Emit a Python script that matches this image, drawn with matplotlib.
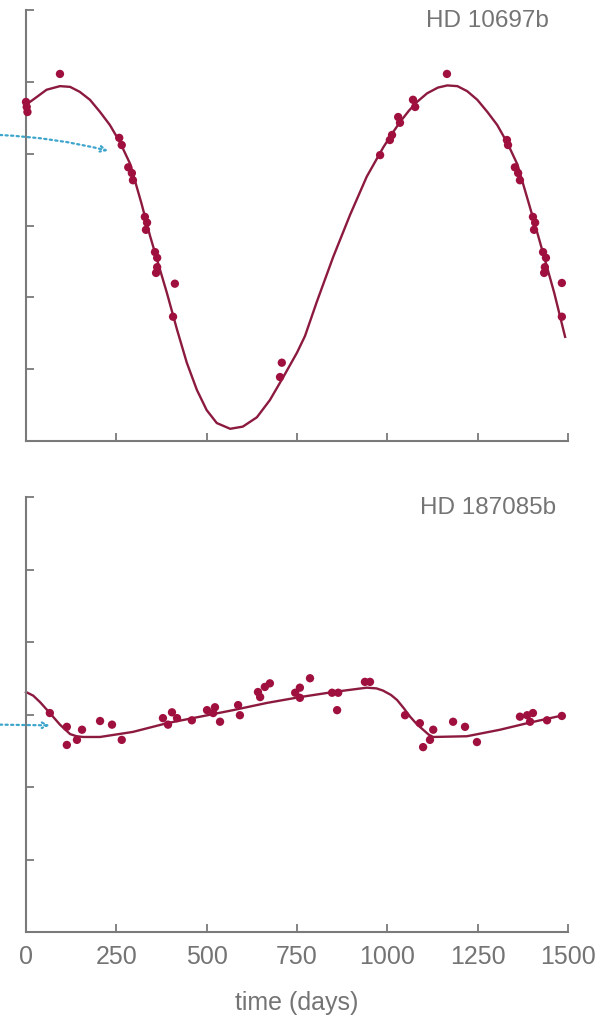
import matplotlib
matplotlib.use("Agg")
import matplotlib.pyplot as plt

# ---------------- data ----------------
# HD 10697b model curve (days, arbitrary RV units, ticks every 1)
top_curve_t = [0, 30, 57, 94, 122, 149, 177, 205, 232, 260, 288, 320, 343, 370, 390,
               418, 445, 473, 500, 528, 565, 600, 639, 675, 712, 750, 772, 805, 850,
               897, 943, 989, 1012, 1035, 1060, 1082, 1110, 1140, 1166, 1194, 1221,
               1249, 1277, 1304, 1332, 1360, 1392, 1415, 1442, 1462, 1492]
top_curve_v = [4.68, 4.79, 4.89, 4.94, 4.93, 4.86, 4.75, 4.58, 4.40, 4.16, 3.86, 3.30,
               2.86, 2.40, 2.06, 1.55, 1.09, 0.71, 0.43, 0.25, 0.17, 0.20, 0.33, 0.57,
               0.89, 1.23, 1.46, 1.94, 2.56, 3.15, 3.68, 4.09, 4.27, 4.44, 4.60, 4.72,
               4.84, 4.92, 4.95, 4.94, 4.87, 4.75, 4.58, 4.40, 4.15, 3.85, 3.30, 2.90,
               2.42, 2.06, 1.45]

top_pts_t = [0, 2, 4, 94, 258, 265, 283, 293, 296, 329, 335, 332, 357, 363, 363, 360,
             412, 407, 708, 703, 980, 1007, 1013, 1030, 1035, 1071, 1077, 1165,
             1331, 1334, 1353, 1362, 1367, 1403, 1409, 1406, 1431, 1439, 1436, 1434,
             1483, 1483]
top_pts_v = [4.72, 4.65, 4.58, 5.11, 4.22, 4.12, 3.81, 3.73, 3.63, 3.12, 3.04, 2.94,
             2.63, 2.55, 2.42, 2.34, 2.19, 1.73, 1.09, 0.89, 3.98, 4.19, 4.26, 4.51,
             4.43, 4.75, 4.65, 5.11, 4.19, 4.12, 3.81, 3.73, 3.63, 3.12, 3.04, 2.94,
             2.63, 2.55, 2.42, 2.34, 2.20, 1.73]

# HD 187085b model curve
bot_curve_t = [0, 20, 39, 66, 94, 122, 140, 158, 205, 296, 390, 482, 573, 667, 758,
               850, 943, 970, 988, 1010, 1027, 1045, 1063, 1081, 1099, 1115, 1127,
               1220, 1312, 1387, 1478]
bot_curve_v = [3.31, 3.26, 3.17, 3.02, 2.86, 2.73, 2.70, 2.69, 2.69, 2.76, 2.88, 2.97,
               3.06, 3.16, 3.24, 3.31, 3.37, 3.36, 3.33, 3.27, 3.20, 3.09, 2.97, 2.87,
               2.79, 2.72, 2.69, 2.70, 2.79, 2.88, 2.98]

bot_pts_t = [66, 113, 113, 141, 155, 205, 238, 265, 379, 393, 404, 418, 459, 501, 523,
             518, 537, 587, 592, 642, 661, 675, 648, 745, 758, 758, 786, 847, 864, 861,
             938, 952, 1049, 1090, 1127, 1118, 1099, 1182, 1215, 1248, 1367, 1387,
             1395, 1403, 1442, 1483]
bot_pts_v = [3.02, 2.83, 2.58, 2.65, 2.79, 2.91, 2.86, 2.65, 2.95, 2.86, 3.03, 2.95,
             2.92, 3.06, 3.10, 3.02, 2.90, 3.13, 2.99, 3.31, 3.38, 3.43, 3.24, 3.30,
             3.37, 3.23, 3.50, 3.30, 3.30, 3.06, 3.45, 3.45, 2.99, 2.88, 2.79, 2.65,
             2.55, 2.90, 2.83, 2.62, 2.97, 2.99, 2.90, 3.02, 2.92, 2.98]

x_ticks = [0, 250, 500, 750, 1000, 1250, 1500]
x_ticklabels = ["0", "250", "500", "750", "1000", "1250", "1500"]
y_ticks = [0, 1, 2, 3, 4, 5, 6]
titles = ["HD 10697b", "HD 187085b"]
xlabel = "time (days)"

# ---------------- style ----------------
W, H = 603, 1019
pt_color = "#a0103f"
line_color = "#8c1a3e"
axis_color = "#7a7a7a"
text_color = "#747474"
arrow_color = "#3da5cc"
font = "Liberation Sans"

fig = plt.figure(figsize=(W / 100, H / 100), dpi=100)

def px_axes(left, top, right, bottom):
    return fig.add_axes([left / W, 1 - bottom / H, (right - left) / W, (bottom - top) / H])

ax1 = px_axes(26, 10, 568, 441)
ax2 = px_axes(26, 497, 568, 932)

panels = [
    (ax1, top_curve_t, top_curve_v, top_pts_t, top_pts_v, titles[0]),
    (ax2, bot_curve_t, bot_curve_v, bot_pts_t, bot_pts_v, titles[1]),
]

for ax, ct, cv, pt, pv, title in panels:
    ax.plot(ct, cv, color=line_color, lw=1.7, zorder=2, clip_on=False,
            solid_joinstyle="round")
    ax.scatter(pt, pv, s=36, color=pt_color, edgecolors="none", zorder=3, clip_on=False)
    ax.set_xlim(0, 1500)
    ax.set_ylim(0, 6)
    for s in ("top", "right"):
        ax.spines[s].set_visible(False)
    for s in ("left", "bottom"):
        ax.spines[s].set_color(axis_color)
        ax.spines[s].set_linewidth(1.5)
    ax.set_xticks(x_ticks)
    ax.set_yticks(y_ticks)
    ax.set_yticklabels([])
    ax.tick_params(axis="both", direction="in", length=6, width=1.3, color=axis_color,
                   labelcolor=text_color)
    ax.text(0.852, 0.974, title, transform=ax.transAxes, ha="center", va="center",
            fontsize=17.5, color=text_color, family=font)
    ax.set_facecolor("none")

ax1.set_xticklabels([])
ax2.set_xticklabels(x_ticklabels, family=font, fontsize=18)
ax2.tick_params(axis="x", pad=9)
ax2.set_xlabel(xlabel, family=font, fontsize=18, color=text_color, labelpad=16)

# dotted blue arrows coming from the left edge
ax1.annotate("", xy=(227, 4.04), xytext=(-72, 4.26), annotation_clip=False,
             arrowprops=dict(arrowstyle="->", color=arrow_color, lw=1.6, ls=(0, (1, 1.5)),
                             connectionstyle="arc3,rad=-0.05", shrinkA=0, shrinkB=0))
ax2.annotate("", xy=(66, 2.85), xytext=(-72, 2.86), annotation_clip=False,
             arrowprops=dict(arrowstyle="->", color=arrow_color, lw=1.6, ls=(0, (1, 1.5)),
                             shrinkA=0, shrinkB=0))

fig.savefig("out.png", dpi=100)
